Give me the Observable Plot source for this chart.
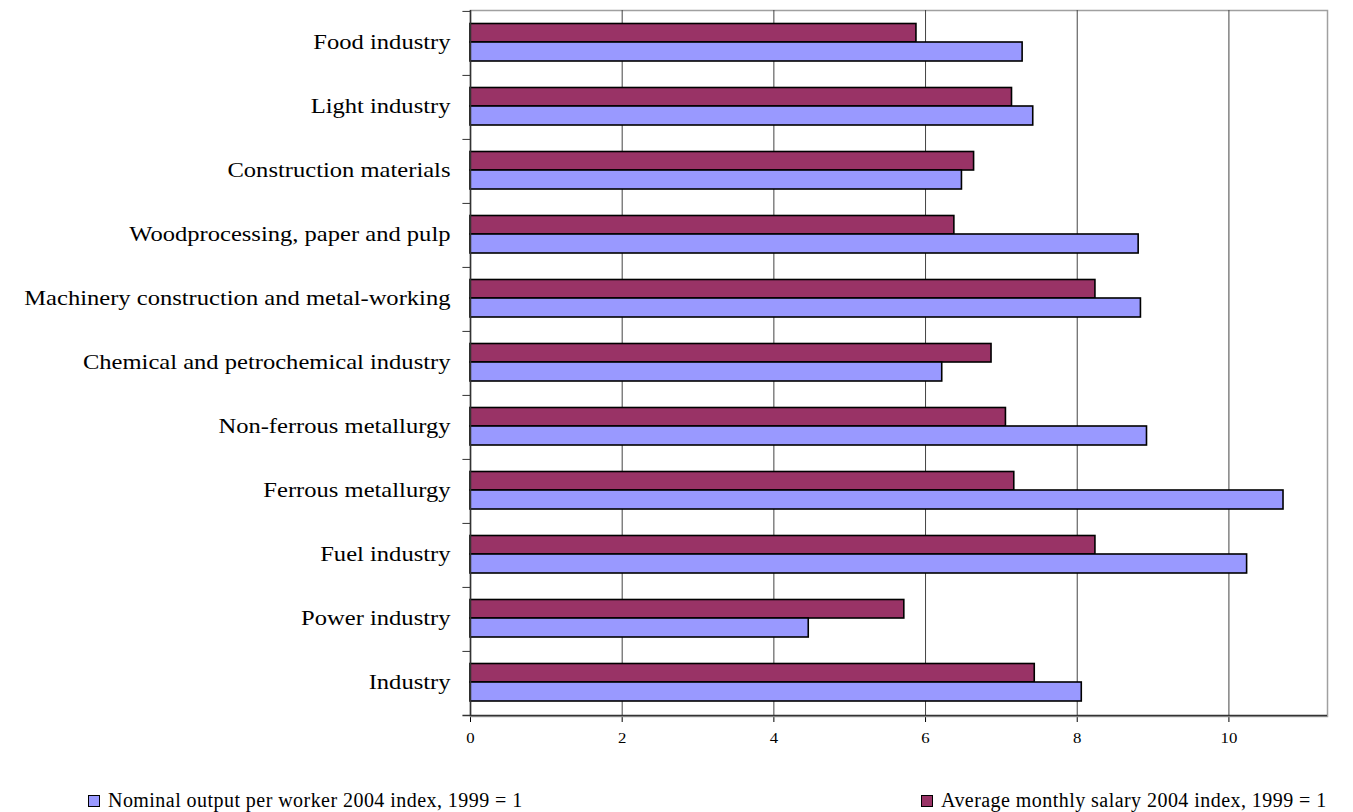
<!DOCTYPE html>
<html>
<head>
<meta charset="utf-8">
<script src="https://cdn.jsdelivr.net/npm/d3@7"></script>
<script src="https://cdn.jsdelivr.net/npm/@observablehq/plot@0.6"></script>
<style>
  body { margin: 0; background: #fff; font-family: "Liberation Serif", "Times New Roman", serif; }
  #wrap { position: relative; width: 1353px; height: 812px; }
  .leg { position: absolute; top: 789px; display: flex; align-items: center; font-size: 20px; letter-spacing: 0.45px; color: #000; white-space: nowrap; }
  .sw { width: 10px; height: 10px; border: 1.5px solid #000; margin-right: 8px; }
</style>
</head>
<body>
<div id="wrap"></div>
<script>
const categories = ["Food industry", "Light industry", "Construction materials", "Woodprocessing, paper and pulp", "Machinery construction and metal-working", "Chemical and petrochemical industry", "Non-ferrous metallurgy", "Ferrous metallurgy", "Fuel industry", "Power industry", "Industry"];
const outputIndex = [7.28, 7.42, 6.48, 8.81, 8.84, 6.22, 8.92, 10.72, 10.24, 4.46, 8.06];
const salaryIndex = [5.88, 7.14, 6.64, 6.38, 8.24, 6.87, 7.06, 7.17, 8.24, 5.72, 7.44];
const seriesNames = ["Nominal output per worker 2004 index, 1999 = 1", "Average monthly salary 2004 index, 1999 = 1"];
const seriesColors = ["#9999FF", "#993366"];
const xTicks = [0, 2, 4, 6, 8, 10];
const xMax = 11.3;

const outRows = categories.map((c, i) => ({category: c, value: outputIndex[i]}));
const salRows = categories.map((c, i) => ({category: c, value: salaryIndex[i]}));

const W = 1353, H = 760, mTop = 10, mBottom = 44;
const step = (H - mTop - mBottom) / categories.length;

const chart = Plot.plot({
  width: W, height: H,
  marginLeft: 470, marginRight: 26, marginTop: mTop, marginBottom: mBottom,
  style: {fontFamily: "'Liberation Serif', 'Times New Roman', serif", background: "#fff", overflow: "visible"},
  x: {domain: [0, xMax], ticks: xTicks, tickSize: 6, tickPadding: 20, label: null, tickFormat: d => String(d)},
  y: {domain: categories, padding: 0, tickSize: 0, tickPadding: 20, label: null},
  marks: [
    Plot.frame({stroke: "#a0a0a0", strokeWidth: 1.5}),
    Plot.ruleX(xTicks.filter(d => d > 0), {stroke: "#444", strokeWidth: 1}),
    Plot.barX(salRows, {x: "value", y: "category", fill: seriesColors[1], stroke: "#000", strokeWidth: 1.6, insetTop: 12.5, insetBottom: 33}),
    Plot.barX(outRows, {x: "value", y: "category", fill: seriesColors[0], stroke: "#000", strokeWidth: 1.6, insetTop: 31, insetBottom: 14}),
    Plot.ruleX([0], {stroke: "#333", strokeWidth: 1.5}),
    Plot.ruleY(categories, {y: d => d, x1: -0.1, x2: 0, dy: -step / 2, stroke: "#333"}),
    Plot.ruleY(categories.slice(-1), {y: d => d, x1: -0.1, x2: xMax, dy: step / 2, stroke: "#333", strokeWidth: 1.5})
  ]
});

chart.querySelectorAll('[aria-label="y-axis tick label"]').forEach(g => g.setAttribute("font-size", "21"));
chart.querySelectorAll('[aria-label="x-axis tick label"]').forEach(g => g.setAttribute("font-size", "14"));
function stretch(t, s, shift) {
  const x = +t.getAttribute("x") || 0, y = +t.getAttribute("y") || 0;
  t.removeAttribute("x"); t.removeAttribute("y");
  const tr = t.getAttribute("transform") || "";
  t.setAttribute("transform", `${tr} translate(${x},${y + shift}) scale(${s},1)`);
}
chart.querySelectorAll('[aria-label="y-axis tick label"] text').forEach(t => stretch(t, 1.17, 5));
chart.querySelectorAll('[aria-label="x-axis tick label"] text').forEach(t => stretch(t, 1.2, 0));

const wrap = document.getElementById("wrap");
wrap.appendChild(chart);

const legendLeft = [88, 921];
const legendOrder = [0, 1];
legendOrder.forEach(k => {
  const d = document.createElement("div");
  d.className = "leg";
  d.style.left = legendLeft[k] + "px";
  const sw = document.createElement("span");
  sw.className = "sw";
  sw.style.background = seriesColors[k];
  const tx = document.createElement("span");
  tx.textContent = seriesNames[k];
  d.appendChild(sw); d.appendChild(tx);
  wrap.appendChild(d);
});
</script>
</body>
</html>
